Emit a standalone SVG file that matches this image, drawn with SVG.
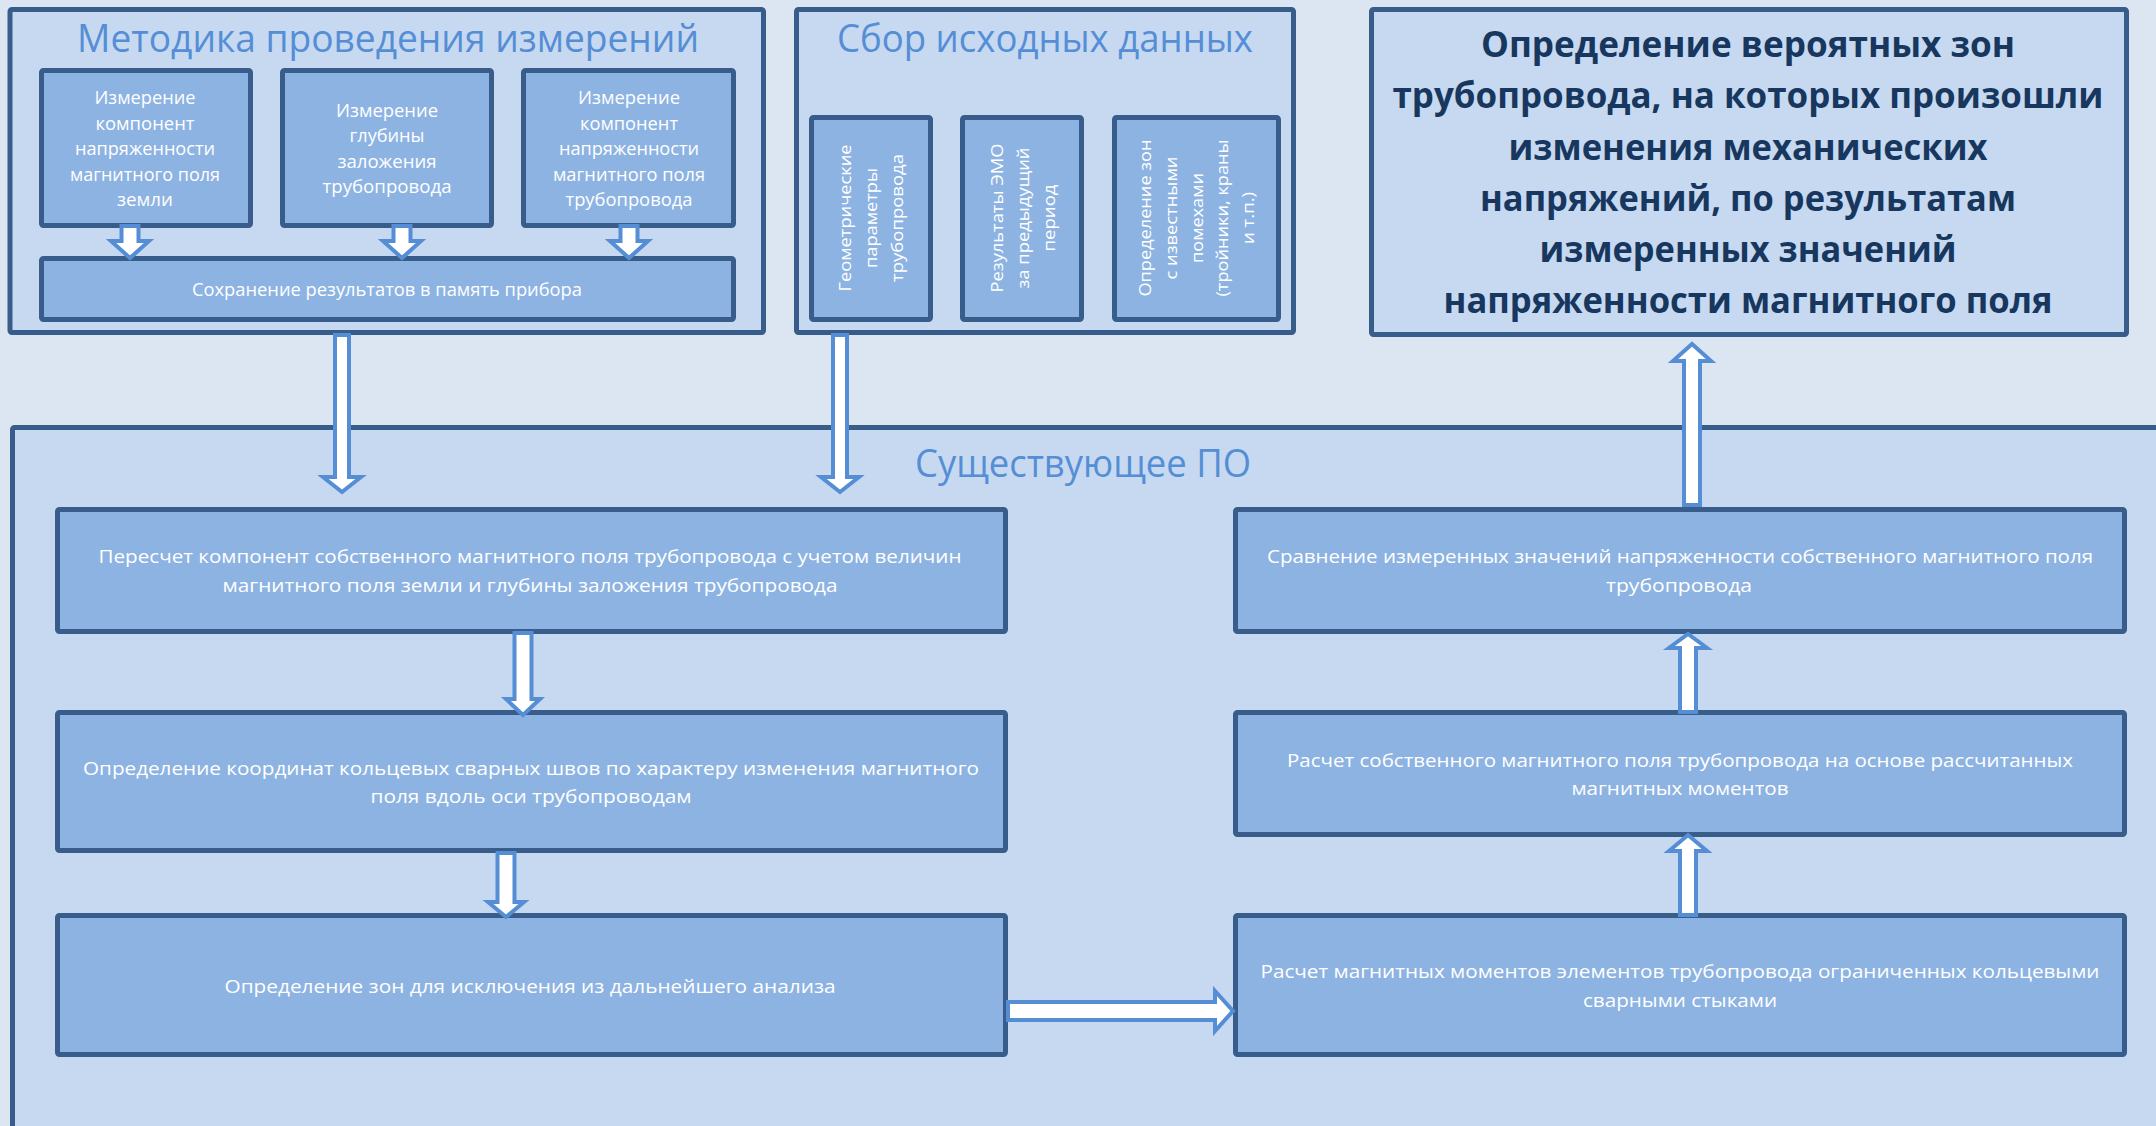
<svg xmlns="http://www.w3.org/2000/svg" width="2156" height="1126" viewBox="0 0 2156 1126">
<style>
.bg{fill:#dce6f2}
.cont{fill:#c6d9f1;stroke:#385d8a;stroke-width:5}
.box{fill:#8db3e2;stroke:#385d8a;stroke-width:5}
.title{font-family:"Open Sans","Noto Sans",sans-serif;fill:#558ed5;font-size:38px}
.t{font-family:"Open Sans","Noto Sans",sans-serif;fill:#ffffff;font-size:19px;text-anchor:middle}
.tv{font-family:"Open Sans","Noto Sans",sans-serif;fill:#ffffff;font-size:17px;text-anchor:middle}
.big{font-family:"Open Sans","Noto Sans",sans-serif;fill:#17375e;font-size:36px;font-weight:bold;text-anchor:middle}
.arr{fill:#ffffff;stroke:#558ed5;stroke-width:4;stroke-linejoin:miter}
</style>
<rect class="bg" x="0" y="0" width="2156" height="1126"/>

<g id="metodika">
<rect class="cont" x="10" y="9.5" width="753.5" height="323" rx="2"/>
<text class="title" x="77" y="52" textLength="622" lengthAdjust="spacingAndGlyphs">Методика проведения измерений</text>
</g>
<g id="m1">
<rect class="box" x="41.5" y="70.5" width="209" height="155" rx="2"/>
<text class="t" x="145" y="104" textLength="101" lengthAdjust="spacingAndGlyphs">Измерение</text>
<text class="t" x="145" y="130" textLength="99" lengthAdjust="spacingAndGlyphs">компонент</text>
<text class="t" x="145" y="155" textLength="140" lengthAdjust="spacingAndGlyphs">напряженности</text>
<text class="t" x="145" y="181" textLength="150" lengthAdjust="spacingAndGlyphs">магнитного поля</text>
<text class="t" x="145" y="206" textLength="56" lengthAdjust="spacingAndGlyphs">земли</text>
</g>
<g id="m2">
<rect class="box" x="282.5" y="70.5" width="209" height="155" rx="2"/>
<text class="t" x="387" y="117" textLength="102" lengthAdjust="spacingAndGlyphs">Измерение</text>
<text class="t" x="387" y="142" textLength="75" lengthAdjust="spacingAndGlyphs">глубины</text>
<text class="t" x="387" y="168" textLength="99" lengthAdjust="spacingAndGlyphs">заложения</text>
<text class="t" x="387" y="193" textLength="129" lengthAdjust="spacingAndGlyphs">трубопровода</text>
</g>
<g id="m3">
<rect class="box" x="523.5" y="70.5" width="210" height="155" rx="2"/>
<text class="t" x="629" y="104" textLength="102" lengthAdjust="spacingAndGlyphs">Измерение</text>
<text class="t" x="629" y="130" textLength="98" lengthAdjust="spacingAndGlyphs">компонент</text>
<text class="t" x="629" y="155" textLength="140" lengthAdjust="spacingAndGlyphs">напряженности</text>
<text class="t" x="629" y="181" textLength="152" lengthAdjust="spacingAndGlyphs">магнитного поля</text>
<text class="t" x="629" y="206" textLength="127" lengthAdjust="spacingAndGlyphs">трубопровода</text>
</g>
<g id="m4">
<rect class="box" x="41.5" y="258.5" width="692" height="61" rx="2"/>
<text class="t" x="387" y="296" textLength="390" lengthAdjust="spacingAndGlyphs">Сохранение результатов в память прибора</text>
</g>

<g id="sbor">
<rect class="cont" x="796.5" y="9.5" width="497" height="323" rx="2"/>
<text class="title" x="837" y="52" textLength="416" lengthAdjust="spacingAndGlyphs">Сбор исходных данных</text>
</g>
<g id="s1">
<rect class="box" x="811.5" y="117.5" width="119" height="202" rx="2"/>
<text class="tv" transform="translate(851,218) rotate(-90)" textLength="147" lengthAdjust="spacingAndGlyphs">Геометрические</text>
<text class="tv" transform="translate(877,218) rotate(-90)" textLength="100" lengthAdjust="spacingAndGlyphs">параметры</text>
<text class="tv" transform="translate(903,218) rotate(-90)" textLength="128" lengthAdjust="spacingAndGlyphs">трубопровода</text>
</g>
<g id="s2">
<rect class="box" x="962.5" y="117.5" width="119" height="202" rx="2"/>
<text class="tv" transform="translate(1003,218) rotate(-90)" textLength="149" lengthAdjust="spacingAndGlyphs">Результаты ЭМО</text>
<text class="tv" transform="translate(1029,218) rotate(-90)" textLength="141" lengthAdjust="spacingAndGlyphs">за предыдущий</text>
<text class="tv" transform="translate(1055,218) rotate(-90)" textLength="67" lengthAdjust="spacingAndGlyphs">период</text>
</g>
<g id="s3">
<rect class="box" x="1114.5" y="117.5" width="164" height="202" rx="2"/>
<text class="tv" transform="translate(1151,218) rotate(-90)" textLength="157" lengthAdjust="spacingAndGlyphs">Определение зон</text>
<text class="tv" transform="translate(1177,218) rotate(-90)" textLength="123" lengthAdjust="spacingAndGlyphs">с известными</text>
<text class="tv" transform="translate(1203,218) rotate(-90)" textLength="90" lengthAdjust="spacingAndGlyphs">помехами</text>
<text class="tv" transform="translate(1228,218) rotate(-90)" textLength="157" lengthAdjust="spacingAndGlyphs">(тройники, краны</text>
<text class="tv" transform="translate(1254,218) rotate(-90)" textLength="52" lengthAdjust="spacingAndGlyphs">и т.п.)</text>
</g>

<g id="result">
<rect class="cont" x="1371.5" y="9.5" width="755" height="325" rx="2"/>
<text class="big" x="1748" y="57" textLength="534" lengthAdjust="spacingAndGlyphs">Определение вероятных зон</text>
<text class="big" x="1748" y="108" textLength="711" lengthAdjust="spacingAndGlyphs">трубопровода, на которых произошли</text>
<text class="big" x="1748" y="160" textLength="479" lengthAdjust="spacingAndGlyphs">изменения механических</text>
<text class="big" x="1748" y="211" textLength="536" lengthAdjust="spacingAndGlyphs">напряжений, по результатам</text>
<text class="big" x="1748" y="262" textLength="417" lengthAdjust="spacingAndGlyphs">измеренных значений</text>
<text class="big" x="1748" y="313" textLength="609" lengthAdjust="spacingAndGlyphs">напряженности магнитного поля</text>
</g>

<g id="po">
<rect class="cont" x="12.5" y="427.5" width="2200" height="800" rx="2"/>
<text class="title" x="915" y="477" font-size="40" textLength="336" lengthAdjust="spacingAndGlyphs">Существующее ПО</text>
</g>
<g id="p1">
<rect class="box" x="57.5" y="509.5" width="948" height="122" rx="2"/>
<text class="t" x="530" y="563" font-size="20" textLength="863" lengthAdjust="spacingAndGlyphs">Пересчет компонент собственного магнитного поля трубопровода с учетом величин</text>
<text class="t" x="530" y="592" font-size="20" textLength="615" lengthAdjust="spacingAndGlyphs">магнитного поля земли и глубины заложения трубопровода</text>
</g>
<g id="p2">
<rect class="box" x="57.5" y="712.5" width="948" height="138" rx="2"/>
<text class="t" x="531" y="775" font-size="20" textLength="896" lengthAdjust="spacingAndGlyphs">Определение координат кольцевых сварных швов по характеру изменения магнитного</text>
<text class="t" x="531" y="803" font-size="20" textLength="321" lengthAdjust="spacingAndGlyphs">поля вдоль оси трубопроводам</text>
</g>
<g id="p3">
<rect class="box" x="57.5" y="915.5" width="948" height="139" rx="2"/>
<text class="t" x="530" y="993" font-size="20" textLength="611" lengthAdjust="spacingAndGlyphs">Определение зон для исключения из дальнейшего анализа</text>
</g>
<g id="r1">
<rect class="box" x="1235.5" y="509.5" width="889" height="122" rx="2"/>
<text class="t" x="1680" y="563" font-size="20" textLength="826" lengthAdjust="spacingAndGlyphs">Сравнение измеренных значений напряженности собственного магнитного поля</text>
<text class="t" x="1679" y="592" font-size="20" textLength="146" lengthAdjust="spacingAndGlyphs">трубопровода</text>
</g>
<g id="r2">
<rect class="box" x="1235.5" y="712.5" width="889" height="122" rx="2"/>
<text class="t" x="1680" y="767" font-size="20" textLength="786" lengthAdjust="spacingAndGlyphs">Расчет собственного магнитного поля трубопровода на основе рассчитанных</text>
<text class="t" x="1680" y="795" font-size="20" textLength="217" lengthAdjust="spacingAndGlyphs">магнитных моментов</text>
</g>
<g id="r3">
<rect class="box" x="1235.5" y="915.5" width="889" height="139" rx="2"/>
<text class="t" x="1680" y="978" font-size="20" textLength="839" lengthAdjust="spacingAndGlyphs">Расчет магнитных моментов элементов трубопровода ограниченных кольцевыми</text>
<text class="t" x="1680" y="1007" font-size="20" textLength="194" lengthAdjust="spacingAndGlyphs">сварными стыками</text>
</g>

<g id="connectors">
<polygon class="arr" points="121.5,226 138.5,226 138.5,241 149,241 130,258 111,241 121.5,241"/>
<polygon class="arr" points="393.5,226 410.5,226 410.5,241 421,241 402,258 383,241 393.5,241"/>
<polygon class="arr" points="620.5,226 637.5,226 637.5,241 648,241 629,258 610,241 620.5,241"/>
<polygon class="arr" points="335,335 349,335 349,477 361,477 342,492 323,477 335,477"/>
<polygon class="arr" points="833,335 847,335 847,477 859,477 840,492 821,477 833,477"/>
<polygon class="arr" points="514.5,633 531.5,633 531.5,699 540,699 523,715 506,699 514.5,699"/>
<polygon class="arr" points="497.5,853 514.5,853 514.5,902 524,902 506,917 488,902 497.5,902"/>
<polygon class="arr" points="1008,1002 1215,1002 1215,991 1233,1011 1215,1031 1215,1020 1008,1020"/>
<polygon class="arr" points="1680,915 1696,915 1696,851 1707,851 1688,835 1669,851 1680,851"/>
<polygon class="arr" points="1680,712 1696,712 1696,648 1707,648 1688,634 1669,648 1680,648"/>
<polygon class="arr" points="1684,505 1700,505 1700,361 1711,361 1692,344 1673,361 1684,361"/>
</g>
</svg>
